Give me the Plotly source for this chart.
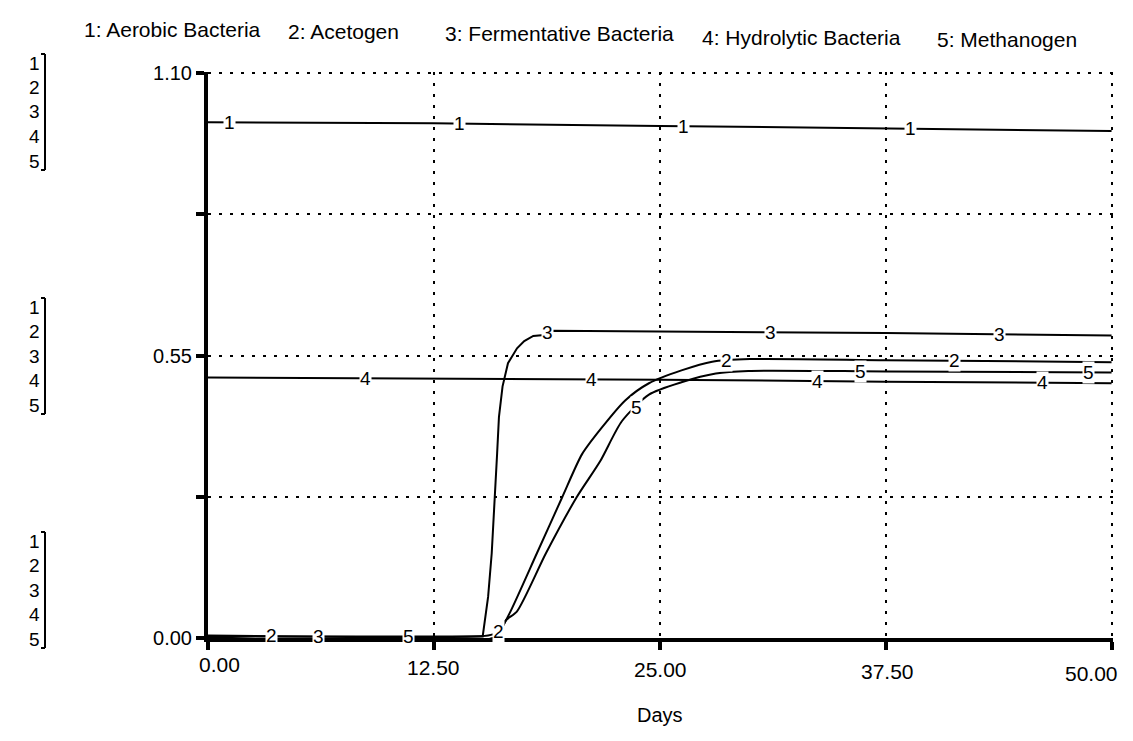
import numpy as np
import plotly.graph_objects as go

# ---- data ----
series_names = ["Aerobic Bacteria", "Acetogen", "Fermentative Bacteria",
                "Hydrolytic Bacteria", "Methanogen"]

days_aerobic = [0, 12.5, 25, 37.5, 50]
aerobic = [1.004, 1.002, 0.997, 0.992, 0.987]

days_acetogen = [0, 15.5, 16.1, 16.7, 18.2, 19.6, 20.7, 21.8, 23.1, 24.4, 26.2, 27.9, 30.0, 37.5, 50]
acetogen = [0.005, 0.005, 0.012, 0.049, 0.165, 0.274, 0.358, 0.41, 0.463, 0.496, 0.521, 0.538, 0.543, 0.541, 0.537]

days_ferment = [0, 15.2, 15.5, 15.7, 16.0, 16.1, 16.3, 16.6, 17.1, 17.5, 18.0, 18.6, 19.0, 25, 37.5, 50]
ferment = [0.003, 0.003, 0.08, 0.165, 0.36, 0.43, 0.49, 0.535, 0.564, 0.578, 0.588, 0.590, 0.598, 0.597, 0.594, 0.589]

days_hydro = [0, 12.5, 25, 37.5, 50]
hydro = [0.507, 0.505, 0.503, 0.499, 0.496]

days_methano = [0, 15.9, 16.5, 17.1, 18.7, 20.4, 21.7, 22.9, 24.4, 26.2, 28.1, 29.9, 37.5, 50]
methano = [0.002, 0.002, 0.035, 0.052, 0.165, 0.274, 0.344, 0.422, 0.474, 0.498, 0.515, 0.520, 0.519, 0.517]

# positions (days) of the numbered markers on each curve
label_days = [
    [1.2, 13.9, 26.3, 38.9],
    [3.5, 16.1, 28.7, 41.3],
    [6.1, 18.8, 31.1, 43.8],
    [8.7, 21.2, 33.7, 46.2],
    [11.1, 23.7, 36.1, 48.7],
]

x_ticks = [0, 12.5, 25, 37.5, 50]
x_ticktext = ["0.00", "12.50", "25.00", "37.50", "50.00"]
y_ticks = [0, 0.275, 0.55, 0.825, 1.1]
y_ticktext = ["0.00", "", "0.55", "", "1.10"]
x_title = "Days"

all_days = [days_aerobic, days_acetogen, days_ferment, days_hydro, days_methano]
all_vals = [aerobic, acetogen, ferment, hydro, methano]
shapes_line = ["linear", "spline", "linear", "linear", "spline"]

# ---- figure (page has an 8px body margin) ----
OFF = 8
W, H = 1117, 725
PLOT_L, PLOT_T, PLOT_R, PLOT_B = 208, 72, 1113, 638   # page pixels
L = PLOT_L - OFF
T = PLOT_T - OFF
R = W - (PLOT_R - OFF)
B = H - (PLOT_B - OFF)
PW, PH = PLOT_R - PLOT_L, PLOT_B - PLOT_T
FONT = "Liberation Sans, Arial, sans-serif"


def px_x(px):
    return (px - PLOT_L) / PW


def px_y(py):
    return (PLOT_B - py) / PH


fig = go.Figure()
for i in range(5):
    fig.add_trace(go.Scatter(
        x=all_days[i], y=all_vals[i], mode="lines",
        name=series_names[i],
        line=dict(color="black", width=2, shape=shapes_line[i], smoothing=0.7),
        hoverinfo="skip", showlegend=False))

annotations = []
# numbered markers on the curves
for i in range(5):
    for d in label_days[i]:
        yv = float(np.interp(d, all_days[i], all_vals[i]))
        annotations.append(dict(
            x=d, y=yv, xref="x", yref="y", text=str(i + 1), showarrow=False,
            font=dict(family=FONT, size=19, color="black"),
            bgcolor="white", borderpad=0, xanchor="center", yanchor="middle"))

# legend header
legend_left_px = [82, 286, 443, 700, 935]
legend_mid_py = [30, 32, 34, 37, 39]
for i in range(5):
    annotations.append(dict(
        x=px_x(legend_left_px[i]), y=px_y(legend_mid_py[i]), xref="paper", yref="paper",
        text=f"{i + 1}: {series_names[i]}", showarrow=False,
        font=dict(family=FONT, size=21, color="black"),
        xanchor="left", yanchor="middle"))

# x tick labels (STELLA style: end labels pulled inward)
xlab_shift = [11, 0, 1, 2, -20]
xlab_mid_py = [665, 667, 669, 671, 673]
for k in range(len(x_ticks)):
    annotations.append(dict(
        x=x_ticks[k], y=px_y(xlab_mid_py[k]), xref="x", yref="paper",
        text=x_ticktext[k], showarrow=False, xshift=xlab_shift[k],
        font=dict(family=FONT, size=21, color="black"),
        xanchor="center", yanchor="middle"))
annotations.append(dict(
    x=25, y=px_y(715), xref="x", yref="paper", text=x_title, showarrow=False,
    font=dict(family=FONT, size=20, color="black"),
    xanchor="center", yanchor="middle"))

# left scale stacks
stack_tops = [63, 307, 541]
stack_step = 24.5
shapes = []
for top in stack_tops:
    for k in range(5):
        annotations.append(dict(
            x=px_x(42), y=px_y(top + k * stack_step), xref="paper", yref="paper",
            text=str(k + 1), showarrow=False,
            font=dict(family=FONT, size=19, color="black"),
            xanchor="right", yanchor="middle"))
    y0 = px_y(top - 9)
    y1 = px_y(top + 4 * stack_step + 9)
    shapes.append(dict(type="line", xref="paper", yref="paper",
                       x0=px_x(45), x1=px_x(45), y0=y0, y1=y1,
                       line=dict(color="black", width=2)))
    shapes.append(dict(type="line", xref="paper", yref="paper",
                       x0=px_x(41), x1=px_x(45), y0=y0, y1=y0,
                       line=dict(color="black", width=2)))
    shapes.append(dict(type="line", xref="paper", yref="paper",
                       x0=px_x(41), x1=px_x(45), y0=y1, y1=y1,
                       line=dict(color="black", width=2)))

fig.update_layout(
    width=W, height=H, autosize=False,
    margin=dict(l=L, r=R, t=T, b=B, pad=0),
    paper_bgcolor="white", plot_bgcolor="white",
    font=dict(family=FONT, size=19, color="black"),
    annotations=annotations, shapes=shapes,
    showlegend=False,
)
fig.update_xaxes(
    range=[0, 50.08], tickvals=x_ticks, showticklabels=False,
    showline=True, linecolor="black", linewidth=4,
    ticks="outside", ticklen=8, tickwidth=4, tickcolor="black",
    showgrid=True, gridcolor="black", gridwidth=2, griddash="3px,8px",
    zeroline=False,
)
fig.update_yaxes(
    range=[0, 1.102], tickvals=y_ticks, ticktext=y_ticktext,
    showline=True, linecolor="black", linewidth=4,
    ticks="outside", ticklen=8, tickwidth=4, tickcolor="black",
    showgrid=True, gridcolor="black", gridwidth=2, griddash="3px,8px",
    zeroline=False, tickfont=dict(size=20),
)

fig.write_html("out.html")
